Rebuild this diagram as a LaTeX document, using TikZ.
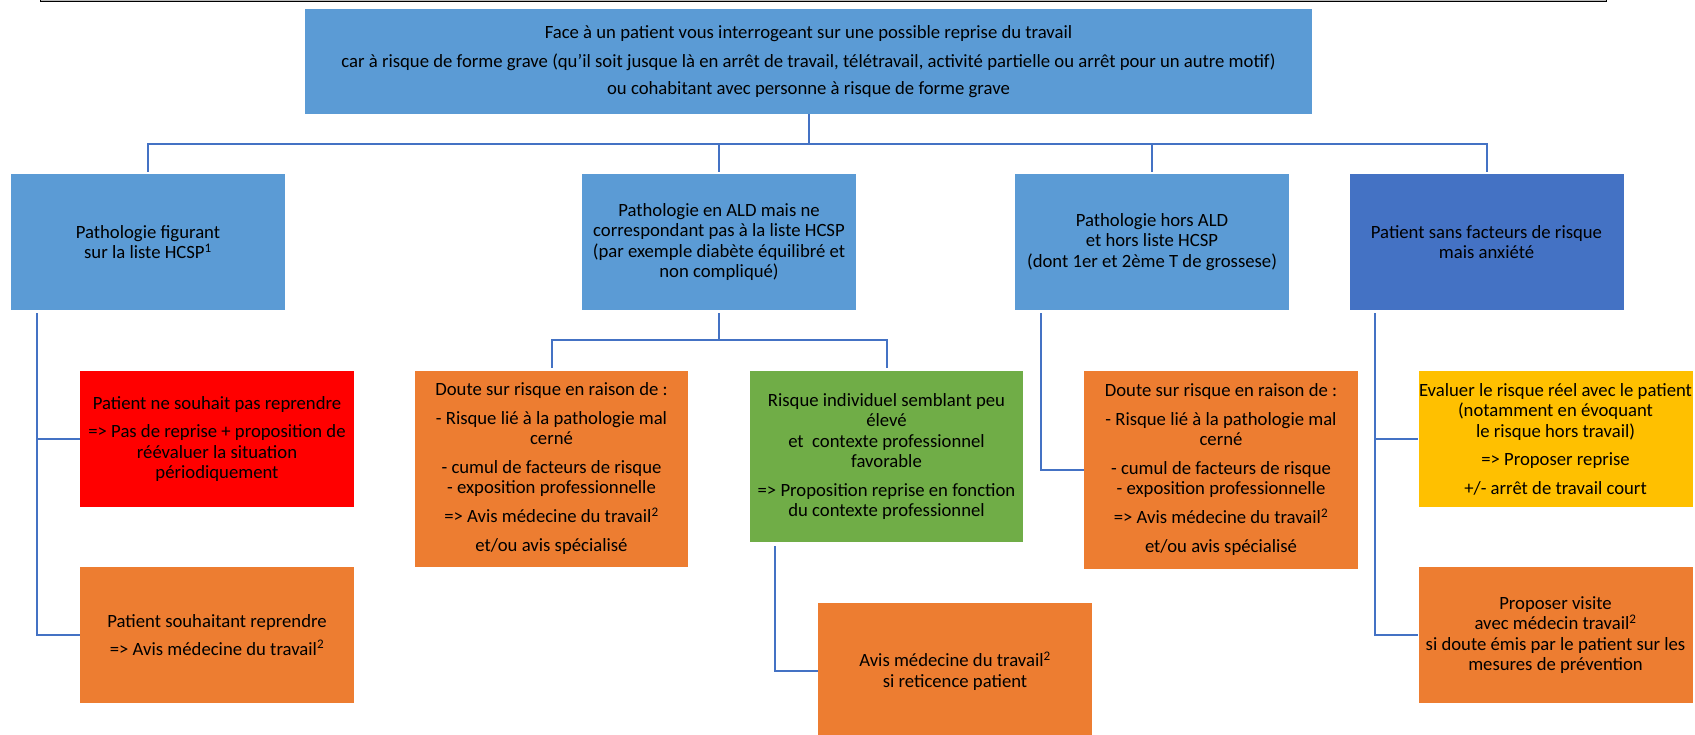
\documentclass[tikz,border=0pt]{standalone}
\usepackage{fontspec}
\setmainfont{Carlito}
\usepackage{tikz}
\usetikzlibrary{calc,positioning}
\definecolor{bleu}{HTML}{5B9BD5}
\definecolor{bleufonce}{HTML}{4472C4}
\definecolor{rouge}{HTML}{FF0000}
\definecolor{orange}{HTML}{ED7D31}
\definecolor{vert}{HTML}{70AD47}
\definecolor{jaune}{HTML}{FFC000}
\tikzset{
  fiche schemes/.style = {
    x = 1pt, y = -1pt,
    % Case
    fc/.style = {
      rectangle, inner sep=0pt,
      minimum width=274pt,
      minimum height=136pt,
      align=center,
      font=\fontsize{18.7}{20.5}\selectfont
    },
    % Cases colorees
    bfc/.style = { fc, fill=bleu      },
    dfc/.style = { fc, fill=bleufonce },
    rfc/.style = { fc, fill=rouge     },
    ofc/.style = { fc, fill=orange    },
    vfc/.style = { fc, fill=vert      },
    jfc/.style = { fc, fill=jaune     },
    % Lignes
    connect line/.style = {line width = 2pt, draw=bleufonce},
  }
}
\newcommand{\expo}[1]{\textsuperscript{#1}}

\begin{document}
\begin{tikzpicture}[fiche schemes]
\useasboundingbox (0,0) rectangle (1695,735);
\draw[fill=gray!55, line width=1pt] (40,-5) rectangle (1606,1.5);

\node[bfc, minimum width=1007pt, minimum height=105pt] (face) at (808.5,61.5)
  {Face à un patient vous interrogeant sur une possible reprise du travail\\[9pt]
   car à risque de forme grave (qu'il soit jusque là en arrêt de travail, télétravail, activité partielle ou arrêt pour un autre motif)\\[6pt]
   ou cohabitant avec personne à risque de forme grave};

% Niveau 2
\node[bfc] (hcsp)  at (148,242)   {Pathologie figurant\\sur la liste HCSP\expo{1}};
\node[bfc] (ald)   at (719,242)   {Pathologie en ALD mais ne\\correspondant pas à la liste HCSP\\(par exemple diabète équilibré et\\non compliqué)};
\node[bfc] (hors)  at (1152,242)  {Pathologie hors ALD\\et hors liste HCSP\\(dont 1er et 2ème T de grossese)};
\node[dfc] (sans)  at (1486.5,242){Patient sans facteurs de risque\\mais anxiété};

% Niveau 3
\node[rfc] (nerep) at (217,439)
  {Patient ne souhait pas reprendre\\[8pt]=> Pas de reprise + proposition de\\réévaluer la situation\\périodiquement};
\node[ofc] (rep)   at (217,635)
  {Patient souhaitant reprendre\\[7pt]=> Avis médecine du travail\expo{2}};
\node[ofc, minimum width=273pt, minimum height=196pt] (douteA) at (551.5,469)
  {Doute sur risque en raison de :\\[8pt]- Risque lié à la pathologie mal\\cerné\\[8pt]- cumul de facteurs de risque\\- exposition professionnelle\\[8pt]=> Avis médecine du travail\expo{2}\\[9pt]et/ou avis spécialisé};
\node[vfc, minimum width=273pt, minimum height=171pt] (indiv) at (886.5,456.5)
  {Risque individuel semblant peu\\élevé\\et\ \ contexte professionnel\\favorable\\[8pt]=> Proposition reprise en fonction\\du contexte professionnel};
\node[ofc] (retic) at (955,671)
  {Avis médecine du travail\expo{2}\\si reticence patient};
\node[ofc, minimum height=198pt] (douteB) at (1221,470)
  {Doute sur risque en raison de :\\[8pt]- Risque lié à la pathologie mal\\cerné\\[8pt]- cumul de facteurs de risque\\- exposition professionnelle\\[8pt]=> Avis médecine du travail\expo{2}\\[9pt]et/ou avis spécialisé};
\node[jfc] (eval)  at (1555.5,439)
  {Evaluer le risque réel avec le patient\\(notamment en évoquant\\le risque hors travail)\\[8pt]=> Proposer reprise\\[8pt]+/- arrêt de travail court};
\node[ofc] (visite) at (1555.5,635)
  {Proposer visite\\avec médecin travail\expo{2}\\si doute émis par le patient sur les\\mesures de prévention};

% Liaisons
\coordinate (bus) at ($(face.south)+(0,30)$);
\draw[connect line] (face.south) -- (bus);
\foreach \n in {hcsp,ald,hors,sans}
  \draw[connect line] (bus) -| ([yshift=2pt]\n.north);

\draw[connect line] ([xshift=26pt,yshift=-3pt]hcsp.south west) |- (nerep.west);
\draw[connect line] ([xshift=26pt,yshift=-3pt]hcsp.south west) |- (rep.west);

\coordinate (aldbus) at ($(ald.south)+(0,30)$);
\draw[connect line] ([yshift=-3pt]ald.south) -- (aldbus);
\draw[connect line] (aldbus) -| ([yshift=3pt]douteA.north);
\draw[connect line] (aldbus) -| ([yshift=3pt]indiv.north);

\draw[connect line] ([xshift=25pt,yshift=-4pt]indiv.south west) |- (retic.west);
\draw[connect line] ([xshift=26pt,yshift=-3pt]hors.south west) |- (douteB.west);
\draw[connect line] ([xshift=26pt,yshift=-3pt]sans.south west) |- (eval.west);
\draw[connect line] ([xshift=26pt,yshift=-3pt]sans.south west) |- (visite.west);
\end{tikzpicture}
\end{document}
